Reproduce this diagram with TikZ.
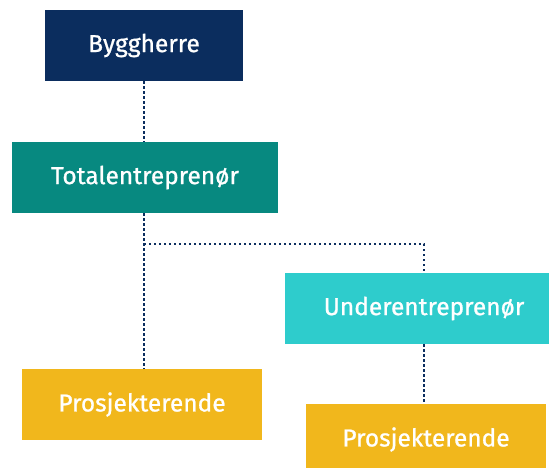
\documentclass[tikz,border=0pt]{standalone}
\usepackage{fontspec}
\setmainfont{Fira Sans}
\newfontfamily\boxfont{Fira Sans}[FakeBold=0.9]
\definecolor{navy}{HTML}{0B2D5E}
\definecolor{tealc}{HTML}{078980}
\definecolor{cyanc}{HTML}{2ECCCC}
\definecolor{gold}{HTML}{F1B71C}
\begin{document}
\begin{tikzpicture}[x=1pt,y=-1pt,
  box/.style={rectangle, inner sep=0pt, text=white, font=\boxfont\fontsize{24.5}{28}\selectfont},
  link/.style={draw=navy, line width=2.4pt, dash pattern=on 2.3pt off 2.7pt}]
\useasboundingbox (0,0) rectangle (549,467);
\clip (0,0) rectangle (549,467);
\node[box, fill=navy, minimum width=198pt, minimum height=71pt] (B) at (144,45.5) {Byggherre};
\node[box, fill=tealc, minimum width=266pt, minimum height=71pt] (T) at (145,177.5) {Totalentreprenør};
\node[box, fill=cyanc, minimum width=278pt, minimum height=71pt] (U) at (424,308.5) {Underentreprenør};
\node[box, fill=gold, minimum width=240pt, minimum height=71pt] (PL) at (142,404.5) {Prosjekterende};
\node[box, fill=gold, minimum width=240pt, minimum height=71pt] (PR) at (426,439.5) {Prosjekterende};
\coordinate (j) at (144,244);
\draw[link] (B.south) -- (B.south |- T.north);
\draw[link] (B.south |- T.south) -- (B.south |- PL.north);
\draw[link] (j) -| (U.north);
\draw[link] (U.south) -- (U.south |- PR.north);
\end{tikzpicture}
\end{document}
